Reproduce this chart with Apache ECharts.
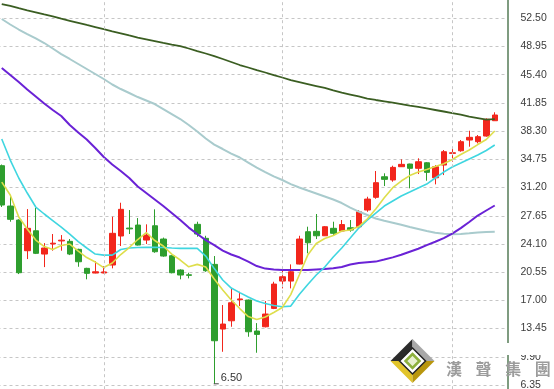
<!DOCTYPE html>
<html><head><meta charset="utf-8">
<script src="https://cdn.jsdelivr.net/npm/echarts@6/dist/echarts.min.js"></script>
<style>html,body{margin:0;padding:0;background:#fff}#c{width:554px;height:389px}</style>
</head><body><div id="c"></div>
<script>
// ---- data ----
const opens  = [33.95,28.87,27.11,23.25,25.76,22.83,24.10,24.48,24.43,23.42,21.03,20.44,20.45,21.45,25.10,26.10,26.48,24.59,26.39,24.72,22.62,20.82,20.22,26.57,24.81,21.53,13.39,14.43,17.08,17.04,13.14,13.68,15.99,19.43,19.43,21.57,25.64,25.69,25.13,26.07,25.73,26.14,26.27,28.37,29.97,32.56,32.15,33.82,34.16,33.62,34.32,32.43,34.03,35.50,35.83,37.18,36.97,37.68,39.61];
const closes = [29.00,27.20,20.48,26.07,22.92,23.59,24.20,24.58,22.83,21.86,20.40,20.60,20.58,25.44,28.46,26.00,23.96,25.22,23.12,22.58,20.48,20.19,20.15,25.35,20.73,11.92,14.02,16.70,17.18,13.05,12.72,15.28,19.05,19.97,20.60,24.72,24.25,25.13,26.27,25.44,26.54,25.85,28.15,29.75,31.81,32.23,33.74,34.12,33.62,34.45,33.11,33.82,35.71,35.58,36.97,37.52,37.60,39.79,40.33];
const lows   = [28.75,26.90,20.31,22.20,22.83,21.19,23.25,23.25,22.70,21.23,19.65,20.40,20.40,21.03,23.84,25.35,23.90,24.09,22.99,22.49,20.40,19.65,19.77,25.01,20.60,6.50,10.53,13.68,16.28,12.42,10.41,13.60,15.90,18.51,18.51,21.53,22.92,24.72,25.10,25.10,25.60,25.64,26.07,28.15,29.79,31.39,31.93,33.80,31.10,32.90,32.06,31.60,32.77,34.45,35.71,36.34,36.76,37.60,39.60];
const highs  = [34.10,30.26,27.20,28.49,28.62,24.21,25.35,25.22,24.72,23.50,21.10,21.95,21.32,27.53,29.29,28.37,27.36,26.57,28.46,24.90,22.70,20.90,20.48,26.90,25.13,22.58,16.41,18.51,18.08,17.10,14.14,16.91,19.34,20.82,21.53,25.13,26.27,27.87,26.36,26.90,27.11,27.11,28.37,30.04,33.28,32.99,33.95,34.75,34.20,34.88,34.40,34.03,35.92,36.14,37.18,38.35,37.81,39.91,40.67];

const ma5   = [31.89,30.26,27.49,25.98,24.59,23.77,23.40,23.90,24.09,23.21,22.39,21.82,21.13,21.70,22.77,23.65,24.66,25.54,24.53,23.84,22.83,22.08,21.23,21.53,21.19,19.68,18.30,17.04,15.97,14.96,14.59,14.90,15.47,16.10,17.73,20.19,22.70,24.15,24.78,25.16,25.73,25.85,26.29,27.24,28.50,29.92,31.18,32.02,32.71,33.15,33.47,33.85,34.20,34.73,35.36,35.92,36.61,37.24,38.31];
const ma10  = [37.31,34.66,32.40,30.51,28.75,27.87,27.05,26.23,25.35,24.40,23.59,22.83,22.70,22.70,23.40,23.59,23.65,23.67,23.67,23.65,23.59,23.55,23.55,23.55,22.58,21.00,19.56,18.55,17.98,17.42,16.91,16.60,16.35,16.20,16.28,17.73,18.99,20.19,21.19,22.45,23.59,24.84,26.10,27.11,27.99,28.87,29.50,30.13,30.63,31.14,31.64,32.40,33.15,33.78,34.28,34.79,35.29,35.86,36.55];
const ma20  = [46.24,45.36,44.48,43.54,42.66,41.78,40.96,40.20,39.07,38.12,37.24,36.17,35.04,34.10,33.28,32.40,31.33,30.51,29.69,28.87,27.99,27.11,26.16,25.35,24.59,23.96,23.27,22.77,22.39,21.88,21.32,21.00,20.88,20.82,20.82,20.82,20.82,20.88,20.94,21.03,21.19,21.51,21.70,21.79,21.88,22.14,22.41,22.74,23.12,23.50,23.96,24.38,24.84,25.41,26.10,26.86,27.68,28.31,28.94];
const ma60  = [52.41,51.72,51.09,50.52,49.96,49.39,48.70,48.00,47.38,46.75,46.12,45.49,44.86,44.17,43.60,43.10,42.59,42.15,41.71,41.08,40.45,39.82,39.07,38.25,37.37,36.61,36.05,35.48,34.98,34.35,33.72,33.15,32.61,32.15,31.64,31.20,30.82,30.45,30.07,29.69,29.25,28.68,28.18,27.74,27.30,27.02,26.77,26.52,26.23,25.98,25.73,25.51,25.39,25.31,25.35,25.44,25.54,25.60,25.64];
const ma120 = [54.30,54.05,53.77,53.51,53.26,52.98,52.73,52.45,52.19,51.93,51.66,51.40,51.13,50.86,50.61,50.34,50.08,49.86,49.64,49.41,49.20,49.01,48.70,48.38,48.07,47.75,47.38,47.00,46.62,46.31,45.99,45.68,45.36,45.05,44.73,44.48,44.23,43.98,43.73,43.44,43.16,42.91,42.66,42.40,42.22,42.05,41.88,41.71,41.52,41.34,41.15,40.96,40.77,40.58,40.37,40.14,39.95,39.76,39.82];

// price ticks on the right axis: 6.35 ... 52.50 step 3.55 (one extra step each side lies off-canvas)
const yMin = 2.80, yMax = 56.05, yStep = 3.55;
const lowMark = { index: 25, value: 6.50, text: '6.50' };
const sessionBreaks = [12, 33, 53];
const brandChars = ['漢', '聲', '集', '團'];

// one spare empty slot at the right end
const categories = opens.map((_, i) => String(i + 1)).concat(['']);
const ohlc = opens.map((o, i) => [o, closes[i], lows[i], highs[i]]);

const chart = echarts.init(document.getElementById('c'), null, { renderer: 'canvas' });

function lineSeries(name, data, color, width, z) {
  return {
    name, type: 'line', data, showSymbol: false, symbol: 'none', smooth: false,
    lineStyle: { color, width }, itemStyle: { color }, z, silent: true
  };
}

// watermark logo geometry
const cx = 412.5, cy = 361, R = 22, r = 13;
const graphics = [
  { type: 'rect', shape: { x: 500, y: 343, width: 54, height: 12 }, style: { fill: '#fff' }, z: 50 },
  { type: 'polygon', shape: { points: [[cx, cy - R], [cx - R, cy], [cx - r, cy], [cx, cy - r]] }, style: { fill: '#2b2b2b' }, z: 51 },
  { type: 'polygon', shape: { points: [[cx, cy - R], [cx + R, cy], [cx + r, cy], [cx, cy - r]] }, style: { fill: '#a8a8a8' }, z: 51 },
  { type: 'polygon', shape: { points: [[cx - R, cy], [cx, cy + R], [cx, cy + r], [cx - r, cy]] }, style: { fill: '#e2c42a' }, z: 51 },
  { type: 'polygon', shape: { points: [[cx + R, cy], [cx, cy + R], [cx, cy + r], [cx + r, cy]] }, style: { fill: '#b8960e' }, z: 51 },
  { type: 'polygon', shape: { points: [[cx, cy - r], [cx + r, cy], [cx, cy + r], [cx - r, cy]] }, style: { fill: '#fff', stroke: '#222', lineWidth: 1.5 }, z: 52 },
  { type: 'polygon', shape: { points: [[cx, cy - 7], [cx + 7, cy], [cx, cy + 7], [cx - 7, cy]] }, style: { fill: '#e8f0d0', stroke: '#8db03c', lineWidth: 2.5 }, z: 53 }
];
brandChars.forEach((ch, i) => {
  graphics.push({
    type: 'text', x: 454 + i * 29.6, y: 369, z: 54,
    style: { text: ch, fill: '#9c9c9c', font: 'bold 16px "Noto Sans CJK TC"', align: 'center', verticalAlign: 'middle' }
  });
});

const option = {
  animation: false,
  backgroundColor: '#ffffff',
  grid: { left: -2.5, right: 46.5, top: -9.9, bottom: -24.2, outerBoundsMode: 'none', containLabel: false },
  xAxis: {
    type: 'category', data: categories, boundaryGap: true,
    axisLine: { show: false }, axisTick: { show: false }, axisLabel: { show: false }, splitLine: { show: false }
  },
  yAxis: {
    type: 'value', position: 'right', min: yMin, max: yMax, interval: yStep, scale: true,
    axisLine: { show: true, lineStyle: { color: '#7f9c80', width: 2 } },
    axisTick: { show: false },
    axisLabel: {
      show: true, margin: 13, color: '#3c3c3c', fontSize: 10.5, fontFamily: '"Liberation Sans", Arial, sans-serif',
      formatter: v => v.toFixed(2)
    },
    splitLine: { show: true, lineStyle: { color: '#c6c6c6', width: 1, type: [3, 3] } }
  },
  series: [
    {
      name: 'K', type: 'candlestick', data: ohlc, barWidth: 6, z: 3,
      itemStyle: { color: '#f2261c', color0: '#2e9e2e', borderColor: '#f2261c', borderColor0: '#2e9e2e', borderColorDoji: '#f2261c', borderWidth: 1 },
      markLine: {
        silent: true, symbol: ['none', 'none'], animation: false,
        label: { show: false },
        lineStyle: { color: '#c6c6c6', width: 1, type: [3, 3] },
        data: sessionBreaks.map(i => ({ xAxis: i }))
      },
      markPoint: {
        silent: true, animation: false,
        symbol: 'rect', symbolSize: [5, 1], symbolOffset: [2, 0],
        itemStyle: { color: '#444' },
        label: { show: true, position: 'right', distance: 2, offset: [0, -6], formatter: lowMark.text, color: '#333', fontSize: 11, fontFamily: '"Liberation Sans", Arial, sans-serif' },
        data: [{ coord: [lowMark.index, lowMark.value] }]
      }
    },
    lineSeries('MA120', ma120, '#3b5e22', 1.8, 4),
    lineSeries('MA60', ma60, '#a9cbcd', 2, 4),
    lineSeries('MA20', ma20, '#6a22d6', 2, 4),
    lineSeries('MA10', ma10, '#3fd6e0', 1.6, 4),
    lineSeries('MA5', ma5, '#dede4c', 1.6, 4)
  ],
  graphic: graphics
};
chart.setOption(option);
</script>
</body></html>
